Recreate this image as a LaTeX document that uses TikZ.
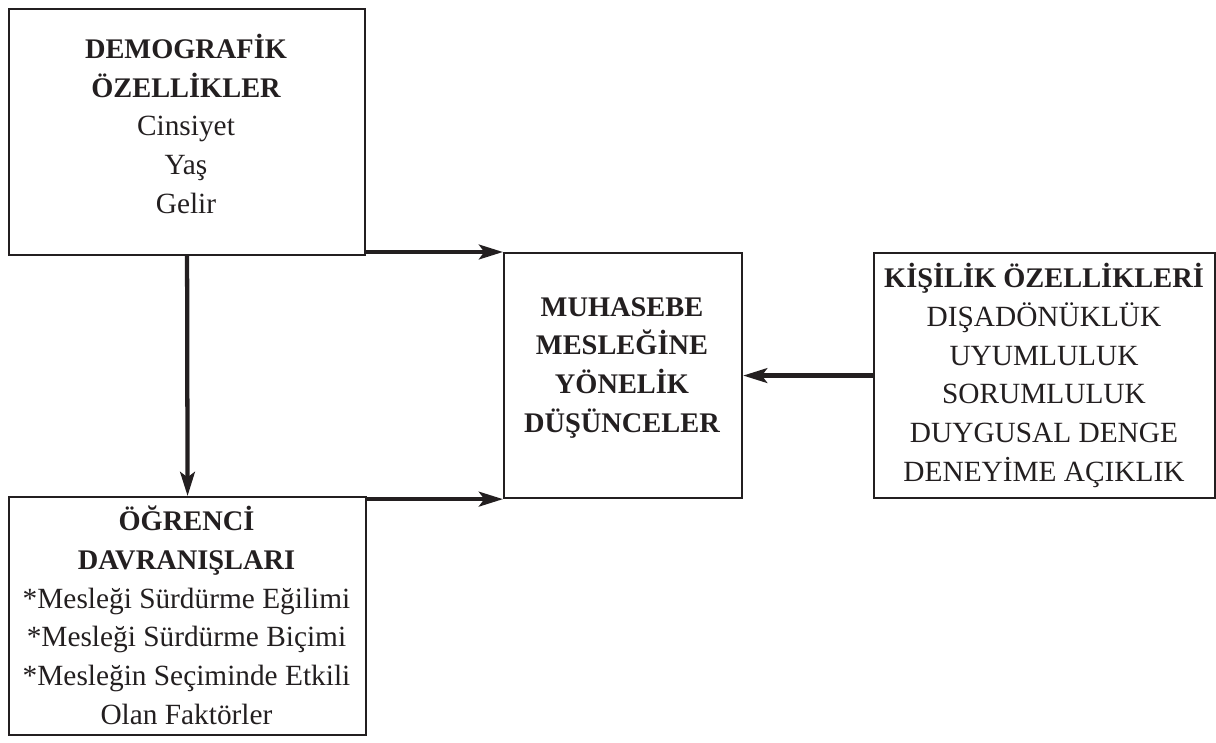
\documentclass[tikz,border=0pt]{standalone}
\usepackage{fontspec}
\setmainfont{Liberation Serif}
\usetikzlibrary{arrows.meta}
\definecolor{ink}{HTML}{231F20}
\newcommand{\hd}[1]{{\fontsize{21.3pt}{29pt}\selectfont\bfseries #1}}
\begin{document}
\begin{tikzpicture}[x=0.75pt,y=-0.75pt,
  box/.style={draw=ink,line width=1.6pt,rectangle,inner sep=0pt,anchor=north west},
  txt/.style={align=center,inner sep=0pt,anchor=base,text=ink,
    font=\fontsize{22pt}{29pt}\selectfont},
  arr/.style={draw=ink,line width=3.2pt,-{Stealth[length=18pt,width=11pt,inset=4pt]}}]
\useasboundingbox (0,0) rectangle (1216,742);
\node[box,minimum width=267pt,minimum height=184.5pt] (demo) at (8,8) {};
\node[box,minimum width=178.5pt,minimum height=183.75pt] (muh) at (503,252) {};
\node[box,minimum width=255.75pt,minimum height=183.75pt] (kis) at (873,252) {};
\node[box,minimum width=267.75pt,minimum height=178.5pt] (ogr) at (8,496) {};
\node[txt] (demot) at (186,213) {\hd{DEMOGRAFİK}\\\hd{ÖZELLİKLER}\\Cinsiyet\\Yaş\\Gelir};
\node[txt] (muht) at (622,432) {\hd{MUHASEBE}\\\hd{MESLEĞİNE}\\\hd{YÖNELİK}\\\hd{DÜŞÜNCELER}};
\node[txt] (kist) at (1044,481) {\hd{KİŞİLİK ÖZELLİKLERİ}\\DIŞADÖNÜKLÜK\\UYUMLULUK\\SORUMLULUK\\DUYGUSAL DENGE\\DENEYİME AÇIKLIK};
\node[txt] (ogrt) at (186.5,724) {\hd{ÖĞRENCİ}\\\hd{DAVRANIŞLARI}\\*Mesleği Sürdürme Eğilimi\\*Mesleği Sürdürme Biçimi\\*Mesleğin Seçiminde Etkili\\Olan Faktörler};
\draw[arr] (demo.south east |- muh.north west) -- (muh.north west);
\draw[arr] (demo.south) -- (ogr.north);
\draw[arr] (ogr.north east |- muh.south west) -- (muh.south west);
\draw[arr] (kis.west) -- (muh.east);
\end{tikzpicture}
\end{document}
